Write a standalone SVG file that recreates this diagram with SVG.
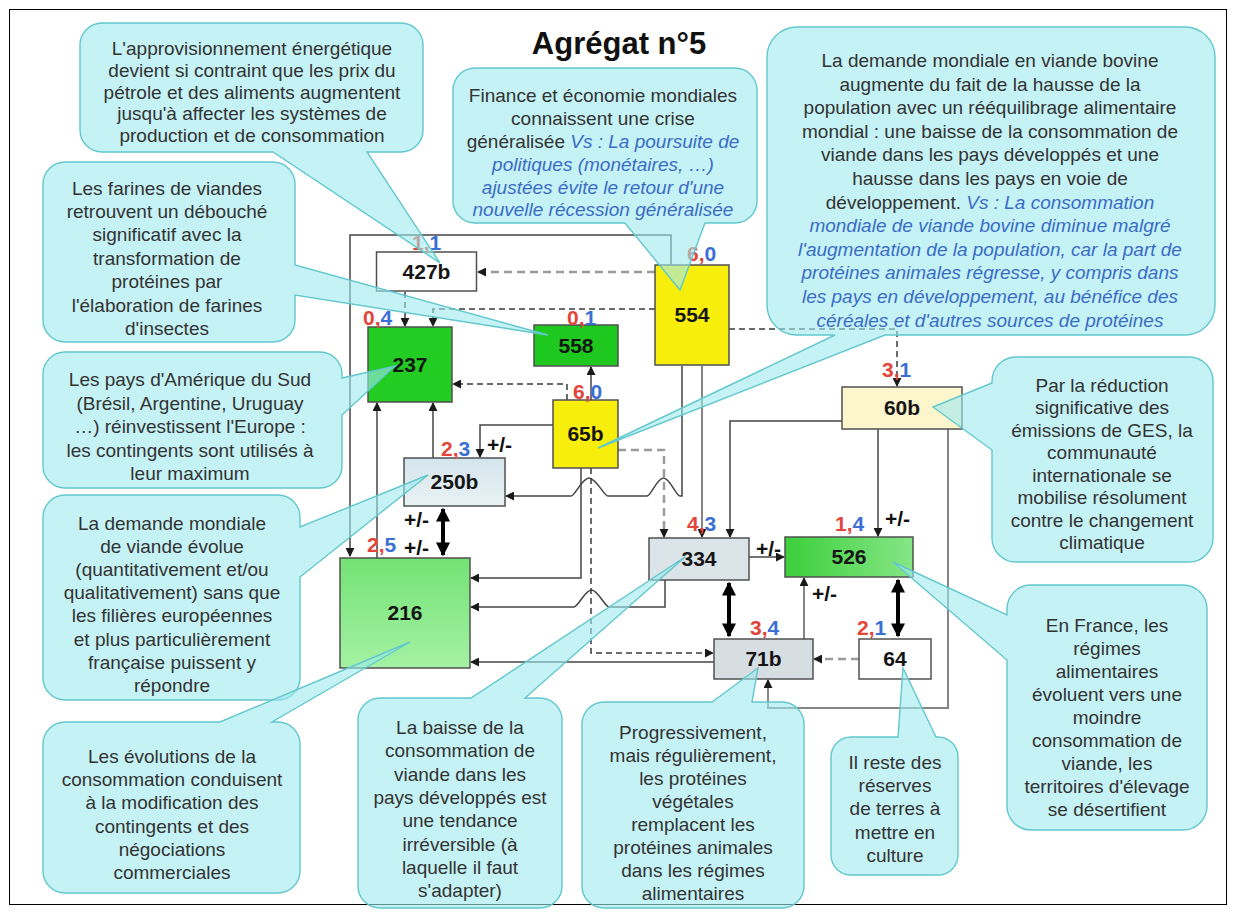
<svg xmlns="http://www.w3.org/2000/svg" width="1236" height="914" viewBox="0 0 1236 914">
<style>
  text { font-family: "Liberation Sans", Arial, sans-serif; }
  .title { font-size: 31px; font-weight: bold; fill: #111; text-anchor: middle; }
  .nlabel { font-size: 21px; font-weight: bold; fill: #151515; text-anchor: middle; }
  .node { stroke: #505050; stroke-width: 1.5; }
  .w { font-size: 21px; font-weight: bold; }
  .r { fill: #e2453a; }
  .b { fill: #3b6fd6; }
  .pm { font-size: 21px; font-weight: bold; fill: #111; }
  .ln { fill: none; stroke: #444; stroke-width: 1.5; marker-end: url(#ah); }
  .lg { fill: none; stroke: #858585; stroke-width: 2; marker-end: url(#ah); }
  .dd { fill: none; stroke: #3a3a3a; stroke-width: 1.5; stroke-dasharray: 6 4; marker-end: url(#ah); }
  .dg { fill: none; stroke: #9a9a9a; stroke-width: 2.5; stroke-dasharray: 8 5; marker-end: url(#ah); }
  .thick { fill: none; stroke: #000; stroke-width: 4; marker-end: url(#ahb); marker-start: url(#ahb); }
  .bubble { fill: #9fe9ef; fill-opacity: 0.6; stroke: #62c8cd; stroke-width: 1.4; }
  .ct { font-size: 19px; fill: #333; text-anchor: middle; }
  .vs { fill: #3a6cc6; font-style: italic; }
</style>
<defs>
  <marker id="ah" viewBox="0 0 10 10" refX="9" refY="5" markerWidth="9" markerHeight="9" markerUnits="userSpaceOnUse" orient="auto">
    <path d="M0,0 L10,5 L0,10 z" fill="#1a1a1a"/>
  </marker>
  <marker id="ahb" viewBox="0 0 10 10" refX="9" refY="5" markerWidth="14" markerHeight="14" markerUnits="userSpaceOnUse" orient="auto-start-reverse">
    <path d="M0,0 L10,5 L0,10 z" fill="#000"/>
  </marker>
  <linearGradient id="g216" x1="0" y1="0" x2="0" y2="1">
    <stop offset="0" stop-color="#74e274"/>
    <stop offset="1" stop-color="#a4f2a4"/>
  </linearGradient>
  <linearGradient id="g526" x1="0" y1="0" x2="1" y2="0">
    <stop offset="0" stop-color="#3ccf3c"/>
    <stop offset="1" stop-color="#86e686"/>
  </linearGradient>
  <linearGradient id="g250" x1="0" y1="0" x2="0" y2="1">
    <stop offset="0" stop-color="#d4e5ec"/>
    <stop offset="1" stop-color="#e9f2f5"/>
  </linearGradient>
</defs>

<rect x="9.5" y="9.5" width="1217" height="895" fill="#fff" stroke="#000" stroke-width="1"/>

<text class="title" x="619" y="54">Agrégat n°5</text>

<!-- links between the boxes -->
<g id="connectors">
  <path class="ln" d="M671,265 V235 H350 V556" stroke="#555"/>
  <path class="dg" d="M655,272 H478"/>
  <path class="dd" d="M405,292 V326"/>
  <path class="dd" d="M655,309 H433 V326"/>
  <path class="ln" d="M591,400 V367" stroke="#222"/>
  <path class="dd" d="M567,400 V384 H453"/>
  <path class="dd" d="M729,329 H897 V386"/>
  <path class="ln" d="M682,366 V496 H680 C676,496 670,478 663.5,478 C657,478 651,496 647,496 H608 C604,496 596,478 589,478 C582,478 575,496 571,496 H506"/>
  <path class="lg" d="M702,366 V537"/>
  <path class="ln" d="M553,425 H480 V457" stroke="#666"/>
  <path class="ln" d="M581,468 V578 H471" stroke="#555"/>
  <path class="dd" d="M591,468 V653 H713"/>
  <path class="dg" d="M618,450 H664 V537" stroke-width="2"/>
  <path class="ln" d="M842,421 H730 V537" stroke="#555"/>
  <path class="ln" d="M878,429 V536"/>
  <path class="lg" d="M948,429 V708 H768 V680" stroke="#7a7a7a"/>
  <path class="ln" d="M749,557 H784" stroke="#333"/>
  <path class="lg" d="M804,639 V578"/>
  <path class="dg" d="M859,659 H814"/>
  <path class="ln" d="M714,662 H471" stroke="#333"/>
  <path class="ln" d="M665,580 V607 H609 C605,607 598,590 591.5,590 C585,590 578,607 574,607 H471" stroke="#555"/>
  <path class="ln" d="M377,558 V403"/>
  <path class="ln" d="M433,458 V403" stroke="#666"/>
  <path class="thick" d="M443,509 V555"/>
  <path class="thick" d="M729,583 V636"/>
  <path class="thick" d="M898,580 V636"/>
</g>

<g id="node-427b">
  <rect class="node" x="376.5" y="252" width="100" height="39" fill="#fff"/>
  <text class="nlabel" x="426.5" y="279">427b</text>
</g>
<g id="node-237">
  <rect class="node" x="368" y="327" width="84" height="75" fill="#22cc22"/>
  <text class="nlabel" x="410" y="372">237</text>
</g>
<g id="node-558">
  <rect class="node" x="534" y="325" width="84" height="41" fill="#1ec81e"/>
  <text class="nlabel" x="576" y="353">558</text>
</g>
<g id="node-554">
  <rect class="node" x="655" y="265" width="74" height="100" fill="#f7ee0c"/>
  <text class="nlabel" x="692" y="322">554</text>
</g>
<g id="node-65b">
  <rect class="node" x="553" y="400" width="65" height="68" fill="#f7ee0c"/>
  <text class="nlabel" x="585.5" y="441">65b</text>
</g>
<g id="node-60b">
  <rect class="node" x="842" y="387" width="120" height="42" fill="#fdf5cc"/>
  <text class="nlabel" x="902" y="415">60b</text>
</g>
<g id="node-250b">
  <rect class="node" x="404" y="458" width="101" height="48" fill="url(#g250)"/>
  <text class="nlabel" x="454.5" y="489">250b</text>
</g>
<g id="node-216">
  <rect class="node" x="340" y="558" width="130" height="110" fill="url(#g216)"/>
  <text class="nlabel" x="405" y="620">216</text>
</g>
<g id="node-334">
  <rect class="node" x="649" y="538" width="100" height="42" fill="#dbe4e8"/>
  <text class="nlabel" x="699" y="566">334</text>
</g>
<g id="node-526">
  <rect class="node" x="785" y="537" width="128" height="40" fill="url(#g526)"/>
  <text class="nlabel" x="849" y="564">526</text>
</g>
<g id="node-71b">
  <rect class="node" x="714" y="639" width="99" height="40" fill="#d6dee2"/>
  <text class="nlabel" x="763.5" y="666">71b</text>
</g>
<g id="node-64">
  <rect class="node" x="859" y="639" width="72" height="40" fill="#fff"/>
  <text class="nlabel" x="895" y="666">64</text>
</g>

<!-- weights and signs -->
<g id="weights">
  <text class="w" x="412" y="250"><tspan class="r">1,</tspan><tspan class="b">1</tspan></text>
  <text class="w" x="363" y="325"><tspan class="r">0,</tspan><tspan class="b">4</tspan></text>
  <text class="w" x="567" y="325"><tspan class="r">0,</tspan><tspan class="b">1</tspan></text>
  <text class="w" x="687" y="261"><tspan class="r">6,</tspan><tspan class="b">0</tspan></text>
  <text class="w" x="573" y="399"><tspan class="r">6,</tspan><tspan class="b">0</tspan></text>
  <text class="w" x="882" y="377"><tspan class="r">3,</tspan><tspan class="b">1</tspan></text>
  <text class="w" x="441" y="456"><tspan class="r">2,</tspan><tspan class="b">3</tspan></text>
  <text class="w" x="367" y="552"><tspan class="r">2,</tspan><tspan class="b">5</tspan></text>
  <text class="w" x="687" y="531"><tspan class="r">4,</tspan><tspan class="b">3</tspan></text>
  <text class="w" x="835" y="531"><tspan class="r">1,</tspan><tspan class="b">4</tspan></text>
  <text class="w" x="750" y="635"><tspan class="r">3,</tspan><tspan class="b">4</tspan></text>
  <text class="w" x="857" y="635"><tspan class="r">2,</tspan><tspan class="b">1</tspan></text>
  <text class="pm" x="487" y="452">+/-</text>
  <text class="pm" x="404" y="527">+/-</text>
  <text class="pm" x="404" y="555">+/-</text>
  <text class="pm" x="756" y="556">+/-</text>
  <text class="pm" x="885" y="526">+/-</text>
  <text class="pm" x="812" y="601">+/-</text>
</g>

<!-- hypothesis call-outs -->
<g id="note-energie">
  <path class="bubble" d="M102,23 H401 A22,22 0 0 1 423,45 V130 A22,22 0 0 1 401,152 H367 L440,263 L273,152 H102 A22,22 0 0 1 80,130 V45 A22,22 0 0 1 102,23 Z"/>
  <text class="ct" x="252" y="55">L'approvisionnement énergétique</text>
  <text class="ct" x="252" y="77">devient si contraint que les prix du</text>
  <text class="ct" x="252" y="99">pétrole et des aliments augmentent</text>
  <text class="ct" x="252" y="120">jusqu'à affecter les systèmes de</text>
  <text class="ct" x="252" y="142">production et de consommation</text>
</g>
<g id="note-farines">
  <path class="bubble" d="M65,162 H273 A22,22 0 0 1 295,184 V265 L548,335 L295,295 V320 A22,22 0 0 1 273,342 H65 A22,22 0 0 1 43,320 V184 A22,22 0 0 1 65,162 Z"/>
  <text class="ct" x="167" y="195">Les farines de viandes</text>
  <text class="ct" x="167" y="218">retrouvent un débouché</text>
  <text class="ct" x="167" y="241">significatif avec  la</text>
  <text class="ct" x="167" y="265">transformation de</text>
  <text class="ct" x="167" y="288">protéines par</text>
  <text class="ct" x="167" y="312">l'élaboration de farines</text>
  <text class="ct" x="167" y="335">d'insectes</text>
</g>
<g id="note-amerique">
  <path class="bubble" d="M65,352 H320 A22,22 0 0 1 342,374 V378 L395,366 L342,415 V466 A22,22 0 0 1 320,488 H65 A22,22 0 0 1 43,466 V374 A22,22 0 0 1 65,352 Z"/>
  <text class="ct" x="190" y="386">Les pays d'Amérique du Sud</text>
  <text class="ct" x="190" y="410">(Brésil, Argentine, Uruguay</text>
  <text class="ct" x="190" y="433">…) réinvestissent l'Europe :</text>
  <text class="ct" x="190" y="457">les contingents sont utilisés à</text>
  <text class="ct" x="190" y="480">leur maximum</text>
</g>
<g id="note-demande">
  <path class="bubble" d="M65,495 H278 A22,22 0 0 1 300,517 V527 L428,475 L300,577 V678 A22,22 0 0 1 278,700 H65 A22,22 0 0 1 43,678 V517 A22,22 0 0 1 65,495 Z"/>
  <text class="ct" x="172" y="530">La demande mondiale</text>
  <text class="ct" x="172" y="553">de viande évolue</text>
  <text class="ct" x="172" y="576">(quantitativement  et/ou</text>
  <text class="ct" x="172" y="599">qualitativement)  sans que</text>
  <text class="ct" x="172" y="622">les filières européennes</text>
  <text class="ct" x="172" y="646">et plus particulièrement</text>
  <text class="ct" x="172" y="669">française puissent y</text>
  <text class="ct" x="172" y="692">répondre</text>
</g>
<g id="note-evolutions">
  <path class="bubble" d="M65,722 H220 L410,642 L272,722 H278 A22,22 0 0 1 300,744 V871 A22,22 0 0 1 278,893 H65 A22,22 0 0 1 43,871 V744 A22,22 0 0 1 65,722 Z"/>
  <text class="ct" x="172" y="763">Les évolutions de la</text>
  <text class="ct" x="172" y="786">consommation conduisent</text>
  <text class="ct" x="172" y="809">à la modification des</text>
  <text class="ct" x="172" y="833">contingents et des</text>
  <text class="ct" x="172" y="856">négociations</text>
  <text class="ct" x="172" y="879">commerciales</text>
</g>
<g id="note-baisse">
  <path class="bubble" d="M380,698 H471 L685,557 L525,698 H540 A22,22 0 0 1 562,720 V886 A22,22 0 0 1 540,908 H380 A22,22 0 0 1 358,886 V720 A22,22 0 0 1 380,698 Z"/>
  <text class="ct" x="460" y="734">La baisse de la</text>
  <text class="ct" x="460" y="757">consommation de</text>
  <text class="ct" x="460" y="781">viande dans les</text>
  <text class="ct" x="460" y="804">pays développés est</text>
  <text class="ct" x="460" y="827">une tendance</text>
  <text class="ct" x="460" y="851">irréversible (à</text>
  <text class="ct" x="460" y="874">laquelle  il faut</text>
  <text class="ct" x="460" y="897">s'adapter)</text>
</g>
<g id="note-vegetales">
  <path class="bubble" d="M604,702 H712 L758,668 L752,702 H782 A22,22 0 0 1 804,724 V886 A22,22 0 0 1 782,908 H604 A22,22 0 0 1 582,886 V724 A22,22 0 0 1 604,702 Z"/>
  <text class="ct" x="693" y="739">Progressivement,</text>
  <text class="ct" x="693" y="762">mais régulièrement,</text>
  <text class="ct" x="693" y="785">les protéines</text>
  <text class="ct" x="693" y="808">végétales</text>
  <text class="ct" x="693" y="831">remplacent les</text>
  <text class="ct" x="693" y="854">protéines animales</text>
  <text class="ct" x="693" y="877">dans les régimes</text>
  <text class="ct" x="693" y="900">alimentaires</text>
</g>
<g id="note-terres">
  <path class="bubble" d="M851,737 H898 L903,668 L936,737 H938 A20,20 0 0 1 958,757 V855 A20,20 0 0 1 938,875 H851 A20,20 0 0 1 831,855 V757 A20,20 0 0 1 851,737 Z"/>
  <text class="ct" x="895" y="769">Il reste des</text>
  <text class="ct" x="895" y="792">réserves</text>
  <text class="ct" x="895" y="815">de terres à</text>
  <text class="ct" x="895" y="839">mettre en</text>
  <text class="ct" x="895" y="862">culture</text>
</g>
<g id="note-climat">
  <path class="bubble" d="M1016,357 H1189 A24,24 0 0 1 1213,381 V538 A24,24 0 0 1 1189,562 H1016 A24,24 0 0 1 992,538 V450 L933,407 L992,383 V381 A24,24 0 0 1 1016,357 Z"/>
  <text class="ct" x="1102" y="392">Par la réduction</text>
  <text class="ct" x="1102" y="414">significative des</text>
  <text class="ct" x="1102" y="437">émissions de GES, la</text>
  <text class="ct" x="1102" y="459">communauté</text>
  <text class="ct" x="1102" y="482">internationale se</text>
  <text class="ct" x="1102" y="504">mobilise résolument</text>
  <text class="ct" x="1102" y="527">contre le changement</text>
  <text class="ct" x="1102" y="549">climatique</text>
</g>
<g id="note-france">
  <path class="bubble" d="M1031,585 H1183 A24,24 0 0 1 1207,609 V806 A24,24 0 0 1 1183,830 H1031 A24,24 0 0 1 1007,806 V660 L893,562 L1007,615 V609 A24,24 0 0 1 1031,585 Z"/>
  <text class="ct" x="1107" y="632">En France, les</text>
  <text class="ct" x="1107" y="655">régimes</text>
  <text class="ct" x="1107" y="678">alimentaires</text>
  <text class="ct" x="1107" y="701">évoluent vers une</text>
  <text class="ct" x="1107" y="724">moindre</text>
  <text class="ct" x="1107" y="747">consommation de</text>
  <text class="ct" x="1107" y="770">viande, les</text>
  <text class="ct" x="1107" y="793">territoires d'élevage</text>
  <text class="ct" x="1107" y="816">se désertifient</text>
</g>
<g id="note-bovine">
  <path class="bubble" d="M797,27 H1185 A30,30 0 0 1 1215,57 V305 A30,30 0 0 1 1185,335 H885 L598,448 L835,335 H797 A30,30 0 0 1 767,305 V57 A30,30 0 0 1 797,27 Z"/>
  <text class="ct" x="990" y="67">La demande mondiale en viande bovine</text>
  <text class="ct" x="990" y="91">augmente du fait de la hausse de la</text>
  <text class="ct" x="990" y="114">population avec un rééquilibrage alimentaire</text>
  <text class="ct" x="990" y="138">mondial : une baisse de la consommation de</text>
  <text class="ct" x="990" y="161">viande dans les pays développés et une</text>
  <text class="ct" x="990" y="185">hausse dans les pays en voie de</text>
  <text class="ct" x="990" y="209">développement. <tspan class="vs">Vs : La consommation</tspan></text>
  <text class="ct vs" x="990" y="232">mondiale de viande bovine diminue malgré</text>
  <text class="ct vs" x="990" y="256">l'augmentation de la population, car la part de</text>
  <text class="ct vs" x="990" y="279">protéines animales régresse, y compris dans</text>
  <text class="ct vs" x="990" y="303">les pays en développement, au bénéfice des</text>
  <text class="ct vs" x="990" y="327">céréales et d'autres sources de protéines</text>
</g>
<g id="note-finance">
  <path class="bubble" d="M475,68 H735 A22,22 0 0 1 757,90 V201 A22,22 0 0 1 735,223 H705 L680,290 L625,223 H475 A22,22 0 0 1 453,201 V90 A22,22 0 0 1 475,68 Z"/>
  <text class="ct" x="603" y="102">Finance et économie mondiales</text>
  <text class="ct" x="603" y="125">connaissent une crise</text>
  <text class="ct" x="603" y="148">généralisée <tspan class="vs">Vs : La poursuite de</tspan></text>
  <text class="ct vs" x="603" y="171">politiques (monétaires, …)</text>
  <text class="ct vs" x="603" y="194">ajustées évite le retour d'une</text>
  <text class="ct vs" x="603" y="216">nouvelle récession généralisée</text>
</g>
</svg>
